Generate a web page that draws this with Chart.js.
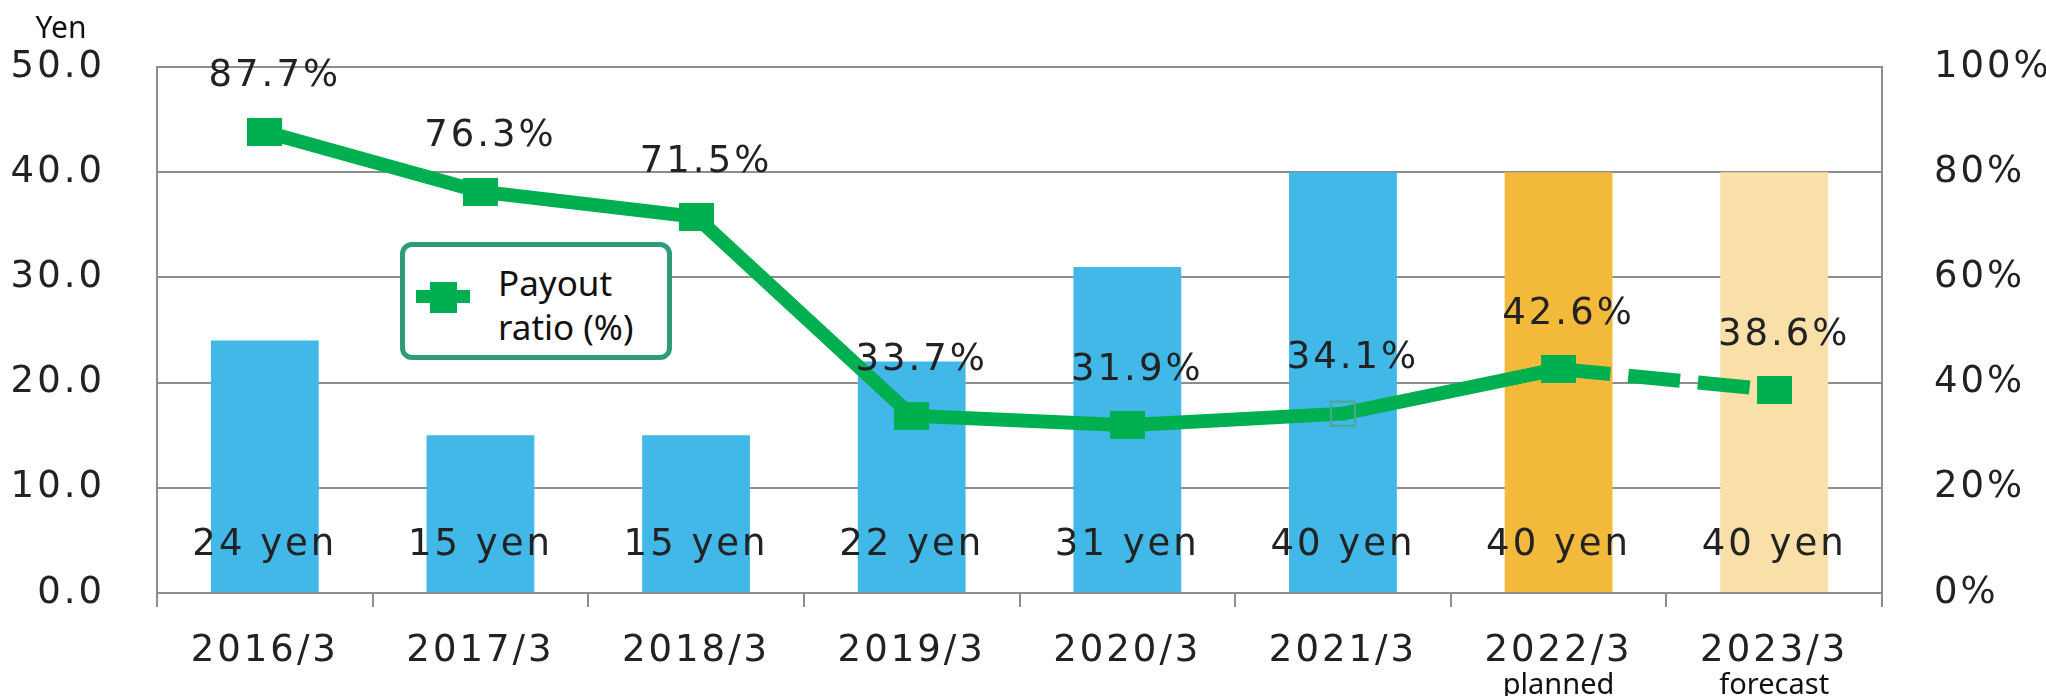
<!DOCTYPE html>
<html>
<head>
<meta charset="utf-8">
<script src="https://cdn.jsdelivr.net/npm/chart.js@4/dist/chart.umd.min.js"></script>
<style>
html, body { margin: 0; padding: 0; background: #fff; }
#wrap { position: relative; width: 2046px; height: 696px; }
#legendBox {
    position: absolute; left: 400px; top: 242px; width: 272px; height: 118px;
    box-sizing: border-box; border: 5px solid #2e9c7a; border-radius: 12px; background: #fff;
}
#legendBox .bar { position: absolute; left: 11px; top: 43px; width: 54px; height: 13px; background: #00b050; }
#legendBox .sq { position: absolute; left: 25px; top: 35px; width: 27px; height: 31px; background: #00b050; }
#legendBox .txt {
    position: absolute; left: 93px; top: 14px; font: 35px "Noto Sans", sans-serif;
    line-height: 44px; color: #111;
}
</style>
</head>
<body>
<div id="wrap">
    <canvas id="dividendChart"></canvas>
    <div id="legendBox"><div class="bar"></div><div class="sq"></div><div class="txt">Payout<br>ratio (%)</div></div>
</div>
<script>
// fiscal years
let years = ['2016/3', '2017/3', '2018/3', '2019/3', '2020/3', '2021/3', '2022/3', '2023/3']
let subLabels = ['', '', '', '', '', '', 'planned', 'forecast']

// dividend per share (yen) and payout ratio (%)
let dividends = [24, 15, 15, 22, 31, 40, 40, 40]
let payout = [87.7, 76.3, 71.5, 33.7, 31.9, 34.1, 42.6, 38.6]

let leftTicks = [0, 10, 20, 30, 40, 50]
let rightTicks = [0, 20, 40, 60, 80, 100]

let barColors = ['#41b8e8', '#41b8e8', '#41b8e8', '#41b8e8', '#41b8e8', '#41b8e8', '#f3b93a', '#f9e0a8']
let green = '#00b050'
let gridColor = '#8e8e8e'
let numFont = '"DejaVu Sans", Verdana, sans-serif'

//square marker, a little wider than tall like the original
let marker = document.createElement('canvas')
marker.width = 35
marker.height = 28
marker.getContext('2d').fillStyle = green
marker.getContext('2d').fillRect(0, 0, 35, 28)

//2021/3 point shows only a faint hollow box
let pointStyles = payout.map((v, i) => i === 5 ? 'rect' : marker)
let pointFills = payout.map((v, i) => i === 5 ? 'rgba(0,0,0,0)' : green)
let pointEdges = payout.map((v, i) => i === 5 ? '#4aa98c' : green)

//text on the bars, above the points, under the year labels
let labelPlugin = {
    id: 'labelPlugin',
    beforeDraw(chart) {
        chart.ctx.letterSpacing = '3px'
    },
    afterDatasetsDraw(chart) {
        let ctx = chart.ctx
        let xScale = chart.scales.x
        let yScale = chart.scales.y
        let lineMeta = chart.getDatasetMeta(0)
        let barMeta = chart.getDatasetMeta(1)
        ctx.save()
        ctx.letterSpacing = '3px'
        ctx.font = '37px ' + numFont
        ctx.fillStyle = '#222'
        ctx.textAlign = 'center'
        ctx.textBaseline = 'middle'

        barMeta.data.forEach((bar, i) => {
            ctx.fillText(dividends[i] + ' yen', bar.x, yScale.getPixelForValue(0) - 48)
        })
        lineMeta.data.forEach((pt, i) => {
            ctx.fillText(payout[i].toFixed(1) + '%', pt.x + 10, pt.y - 55)
        })

        ctx.letterSpacing = '0px'
        ctx.font = '29px "Noto Sans", sans-serif'
        ctx.fillStyle = '#111'
        subLabels.forEach((s, i) => {
            if (s) ctx.fillText(s, xScale.getPixelForValue(i), chart.height - 10)
        })
        ctx.font = '30px "Noto Sans", sans-serif'
        ctx.fillText('Yen', 61, 29)
        ctx.restore()
    }
}

//fixed axis sizes so the plot area sits where the original one does
function fitSide(width) {
    return s => {
        s.width = width
        s.paddingTop = 0
        s.paddingBottom = 0
    }
}

let ctx = document.getElementById('dividendChart').getContext('2d')

let dividendChart = new Chart(ctx, {
    data: {
        labels: years,
        datasets: [
            {
                type: 'line',
                label: 'Payout ratio (%)',
                data: payout,
                yAxisID: 'y1',
                order: 0,
                borderColor: green,
                borderWidth: 14,
                tension: 0,
                pointStyle: pointStyles,
                pointRadius: 17,
                pointBackgroundColor: pointFills,
                pointBorderColor: pointEdges,
                pointBorderWidth: 2,
                segment: {
                    borderDash: c => subLabels[c.p1DataIndex] === 'forecast' ? [52, 18] : undefined
                }
            },
            {
                type: 'bar',
                label: 'Dividend (yen)',
                data: dividends,
                yAxisID: 'y',
                order: 1,
                backgroundColor: barColors,
                barPercentage: 1,
                categoryPercentage: 0.5
            }
        ]
    },
    options: {
        responsive: true,
        maintainAspectRatio: false,
        animation: false,
        layout: { padding: { top: 67, left: 0, right: 0, bottom: 0 } },
        plugins: {
            legend: { display: false },
            tooltip: { enabled: false }
        },
        scales: {
            x: {
                grid: { drawOnChartArea: false, drawTicks: true, tickLength: 14, color: gridColor, lineWidth: 2 },
                border: { display: true, color: gridColor, width: 2 },
                ticks: { font: { family: numFont, size: 37 }, color: '#222', padding: 22 },
                afterFit: s => {
                    s.height = 103
                    s.paddingLeft = 0
                    s.paddingRight = 0
                }
            },
            y: {
                position: 'left',
                min: 0,
                max: 50,
                afterBuildTicks: s => { s.ticks = leftTicks.map(v => ({ value: v })) },
                grid: { color: gridColor, lineWidth: 2, drawTicks: false },
                border: { display: true, color: gridColor, width: 2 },
                ticks: { font: { family: numFont, size: 37 }, color: '#222', padding: 52, callback: v => v.toFixed(1) },
                afterFit: fitSide(157)
            },
            y1: {
                position: 'right',
                min: 0,
                max: 100,
                afterBuildTicks: s => { s.ticks = rightTicks.map(v => ({ value: v })) },
                grid: { drawOnChartArea: false, drawTicks: false },
                border: { display: true, color: gridColor, width: 2 },
                ticks: { font: { family: numFont, size: 37 }, color: '#222', padding: 52, callback: v => v + '%' },
                afterFit: fitSide(164)
            }
        }
    },
    plugins: [labelPlugin]
})
</script>
</body>
</html>
